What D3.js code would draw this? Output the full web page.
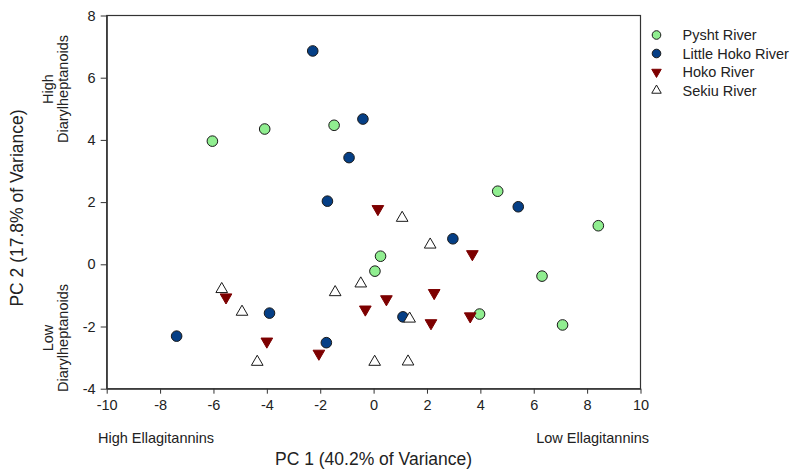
<!DOCTYPE html>
<html>
<head>
  <meta charset="utf-8">
  <title>PCA scores</title>
  <script src="https://d3js.org/d3.v7.min.js"></script>
  <style>
    body { margin: 0; background: #fff; }
    text { font-family: Arial, 'Liberation Sans', sans-serif; fill: #222; }
  </style>
</head>
<body>
  <script>
    // PC1 / PC2 scores
    var series = ['Pysht River', 'Little Hoko River', 'Hoko River', 'Sekiu River'];
    var pysht = [[-6.04, 3.96], [-4.08, 4.35], [-1.48, 4.47], [4.65, 2.35], [0.26, 0.26],
                 [0.05, -0.22], [8.42, 1.24], [6.31, -0.38], [3.97, -1.60], [7.08, -1.95]];
    var littleHoko = [[-2.28, 6.86], [-0.40, 4.67], [-0.92, 3.43], [-1.73, 2.03], [5.42, 1.85],
                      [2.97, 0.82], [-3.90, -1.57], [-7.38, -2.31], [-1.77, -2.52], [1.10, -1.69]];
    var hoko = [[0.16, 1.78], [3.70, 0.33], [-5.53, -1.06], [0.48, -1.12], [-0.31, -1.45],
                [2.27, -0.92], [2.15, -1.89], [3.62, -1.67], [-4.00, -2.48], [-2.05, -2.87]];
    var sekiu = [[1.07, 1.49], [2.12, 0.63], [-0.48, -0.62], [-1.44, -0.90], [-5.69, -0.80],
                 [-4.93, -1.53], [1.35, -1.75], [-4.36, -3.14], [0.04, -3.14], [1.29, -3.13]];
    var xTicks = [-10, -8, -6, -4, -2, 0, 2, 4, 6, 8, 10];
    var yTicks = [-4, -2, 0, 2, 4, 6, 8];

    var styles = [
      { fill: '#90ee90', shape: 'circle' },
      { fill: '#053f86', shape: 'circle' },
      { fill: '#7d0000', shape: 'down' },
      { fill: '#ffffff', shape: 'up' }
    ];
    var data = [pysht, littleHoko, hoko, sekiu];

    var svg = d3.select('body').append('svg')
      .attr('width', 792)
      .attr('height', 469);

    var x = d3.scaleLinear().domain([-10, 10]).range([106.7, 640.5]);
    var y = d3.scaleLinear().domain([-4, 8]).range([388.7, 15.5]);

    // frame
    svg.append('rect')
      .attr('x', x(-10)).attr('y', y(8))
      .attr('width', x(10) - x(-10)).attr('height', y(-4) - y(8))
      .attr('fill', 'none').attr('stroke', '#333').attr('stroke-width', 1.2);

    var plain = function(d) { return String(d); };
    var xAxis = svg.append('g')
      .attr('transform', 'translate(0,' + y(-4) + ')')
      .call(d3.axisBottom(x).tickValues(xTicks).tickFormat(plain).tickSize(5).tickSizeOuter(0).tickPadding(6));
    var yAxis = svg.append('g')
      .attr('transform', 'translate(' + x(-10) + ',0)')
      .call(d3.axisLeft(y).tickValues(yTicks).tickFormat(plain).tickSize(6).tickSizeOuter(0).tickPadding(5));
    [xAxis, yAxis].forEach(function(g) {
      g.select('.domain').attr('stroke', '#333').attr('stroke-width', 1.2);
      g.selectAll('.tick line').attr('stroke', '#333');
      g.selectAll('.tick text').attr('font-size', 14.5).attr('fill', '#222');
    });

    function drawMark(sel, st, r) {
      if (st.shape === 'circle') {
        sel.append('circle').attr('r', r)
          .attr('fill', st.fill).attr('stroke', '#1a1a1a').attr('stroke-width', 1);
      } else {
        var sym = d3.symbol().type(d3.symbolTriangle).size(r * r * 2.1);
        sel.append('path').attr('d', sym)
          .attr('transform', st.shape === 'down' ? 'rotate(180)' : null)
          .attr('fill', st.fill)
          .attr('stroke', st.shape === 'down' ? st.fill : '#1a1a1a')
          .attr('stroke-width', 1);
      }
    }

    data.forEach(function(pts, i) {
      svg.append('g').selectAll('g')
        .data(pts)
        .join('g')
        .attr('transform', function(d) { return 'translate(' + x(d[0]) + ',' + y(d[1]) + ')'; })
        .each(function() { drawMark(d3.select(this), styles[i], 5.3); });
    });

    // legend
    var legend = svg.append('g');
    series.forEach(function(name, i) {
      var row = legend.append('g').attr('transform', 'translate(656.5,' + (35 + i * 18.5) + ')');
      drawMark(row, styles[i], 4.3);
      row.append('text').attr('x', 26).attr('y', 5).attr('font-size', 14.5).text(name);
    });

    // axis titles
    svg.append('text')
      .attr('x', (x(-10) + x(10)) / 2).attr('y', 465)
      .attr('text-anchor', 'middle').attr('font-size', 17.5)
      .text('PC 1 (40.2% of Variance)');
    svg.append('text')
      .attr('transform', 'translate(23,208) rotate(-90)')
      .attr('text-anchor', 'middle').attr('font-size', 17.5)
      .text('PC 2 (17.8% of Variance)');

    svg.append('text').attr('x', 98).attr('y', 443).attr('font-size', 14.5).text('High Ellagitannins');
    svg.append('text').attr('x', 649).attr('y', 443).attr('text-anchor', 'end')
      .attr('font-size', 14.5).text('Low Ellagitannins');

    var sideLabels = [['High', 89], ['Low', 338]];
    sideLabels.forEach(function(s) {
      var t = svg.append('text')
        .attr('transform', 'translate(0,' + s[1] + ') rotate(-90)')
        .attr('text-anchor', 'middle').attr('font-size', 14.5);
      t.append('tspan').attr('x', 0).attr('y', 53).text(s[0]);
      t.append('tspan').attr('x', 0).attr('y', 68).text('Diarylheptanoids');
    });
  </script>
</body>
</html>
